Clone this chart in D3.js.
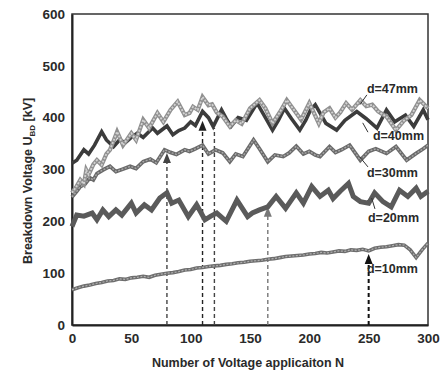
<!DOCTYPE html>
<html>
<head>
<meta charset="utf-8">
<script src="https://cdn.jsdelivr.net/npm/d3@7"></script>
<style>
  body { margin: 0; background: #fff; }
  svg text { font-family: "Liberation Sans", Arial, sans-serif; fill: #2a2a2a; font-weight: bold; }
</style>
</head>
<body>
<div id="chart"></div>
<script>
// ---- data ----
const d47N = [0, 4, 7, 10, 12, 14, 18, 21, 25, 29, 32, 35, 38, 43, 47, 50, 54, 60, 65, 72, 77, 83, 89, 95, 99, 102, 106, 110, 115, 118, 122, 127, 133, 138, 143, 150, 158, 163, 169, 175, 181, 187, 193, 200, 208, 212, 217, 222, 226, 231, 236, 243, 248, 253, 258, 265, 273, 280, 286, 293, 300];
const d47V = [255, 268, 280, 272, 299, 290, 310, 318, 309, 330, 338, 355, 373, 347, 360, 370, 357, 396, 380, 409, 392, 415, 431, 405, 409, 421, 415, 440, 424, 426, 410, 402, 383, 395, 388, 418, 434, 418, 389, 410, 434, 415, 396, 428, 389, 410, 418, 400, 410, 428, 415, 434, 422, 425, 412, 402, 376, 395, 405, 434, 418];

const d40N = [0, 4, 10, 14, 19, 25, 29, 35, 40, 45, 50, 55, 60, 68, 72, 80, 85, 90, 95, 100, 104, 110, 115, 119, 126, 130, 134, 140, 147, 156, 163, 169, 174, 179, 185, 192, 197, 201, 205, 214, 223, 230, 240, 248, 257, 265, 272, 281, 288, 296, 300];
const d40V = [312, 318, 338, 330, 347, 373, 357, 344, 357, 352, 362, 370, 362, 380, 370, 384, 367, 375, 380, 392, 385, 412, 400, 383, 415, 398, 383, 400, 395, 428, 400, 376, 395, 418, 398, 376, 395, 415, 425, 389, 376, 395, 412, 398, 380, 415, 392, 405, 383, 415, 396];

const d30N = [0, 4, 7, 11, 15, 18, 21, 26, 32, 37, 42, 49, 54, 60, 66, 71, 78, 83, 88, 95, 99, 104, 110, 115, 121, 127, 133, 138, 144, 153, 158, 165, 171, 178, 183, 189, 195, 200, 205, 209, 217, 222, 227, 234, 243, 250, 256, 265, 273, 282, 290, 296, 300];
const d30V = [247, 258, 267, 272, 284, 280, 292, 299, 306, 296, 300, 306, 302, 315, 320, 313, 338, 333, 329, 338, 335, 340, 347, 330, 338, 332, 315, 330, 325, 357, 340, 315, 328, 325, 332, 345, 330, 335, 328, 325, 344, 333, 338, 347, 318, 335, 340, 331, 344, 318, 331, 340, 347];

const d20N = [0, 4, 10, 17, 21, 26, 31, 37, 42, 50, 54, 61, 67, 74, 80, 84, 90, 98, 105, 112, 117, 122, 130, 139, 148, 152, 158, 165, 172, 180, 189, 195, 202, 209, 216, 220, 226, 233, 237, 243, 250, 255, 262, 269, 276, 283, 290, 294, 300];
const d20V = [190, 212, 210, 216, 203, 222, 209, 222, 212, 235, 216, 232, 222, 245, 255, 235, 241, 209, 232, 203, 210, 216, 200, 241, 209, 216, 222, 228, 248, 225, 255, 235, 267, 248, 260, 244, 258, 273, 248, 238, 235, 255, 238, 228, 260, 248, 264, 248, 258];

const d10N = [0, 5, 10, 15, 20, 25, 30, 35, 40, 45, 50, 55, 60, 65, 70, 75, 80, 85, 90, 95, 100, 105, 110, 115, 120, 125, 130, 135, 140, 145, 150, 155, 160, 165, 170, 175, 180, 185, 190, 195, 200, 205, 210, 215, 220, 225, 230, 235, 240, 245, 250, 255, 260, 265, 270, 275, 280, 285, 290, 295, 300];
const d10V = [68, 72, 75, 77, 80, 82, 85, 86, 89, 88, 91, 92, 94, 92, 96, 98, 100, 101, 103, 106, 107, 110, 111, 113, 114, 115, 117, 118, 120, 121, 123, 124, 125, 127, 128, 130, 132, 133, 134, 135, 137, 138, 140, 139, 141, 143, 142, 145, 144, 146, 143, 148, 150, 151, 153, 155, 154, 145, 130, 145, 158];

const xTicks = [0, 50, 100, 150, 200, 250, 300];
const yTicks = [0, 100, 200, 300, 400, 500, 600];

// dashed markers: position N, top value, arrowhead?, colour
const arrowN = [80, 110, 120, 165, 250];
const arrowTop = [332, 394, 380, 228, 137];
const arrowHead = [true, true, false, true, true];
const arrowColor = ["#444", "#222", "#444", "#777", "#111"];

// labels: text, anchor N/V, leader from/to
const labelText = ["d=47mm", "d=40mm", "d=30mm", "d=20mm", "d=10mm"];
const labelN = [248.5, 253.6, 248.5, 249.4, 248.5];
const labelV = [448, 357, 286, 199, 100];
const leaders = [
  [[248.5, 444], [242.6, 425]],
  [[249.4, 372], [245, 390]],
  [[249.4, 305], [242.6, 324]],
  [[255.3, 224], [252.5, 245]],
  null
];

// ---- layout ----
const width = 443, height = 374;
const margin = { left: 72, right: 15, top: 14, bottom: 49 };

const svg = d3.select("#chart").append("svg")
  .attr("width", width)
  .attr("height", height);

const x = d3.scaleLinear().domain([0, 300]).range([margin.left, width - margin.right]);
const y = d3.scaleLinear().domain([0, 600]).range([height - margin.bottom, margin.top]);

// frame
svg.append("rect")
  .attr("x", x(0)).attr("y", y(600))
  .attr("width", x(300) - x(0)).attr("height", y(0) - y(600))
  .attr("fill", "none").attr("stroke", "#333").attr("stroke-width", 1.5);

// axes (labels only, no tick marks visible)
const xAxis = svg.append("g")
  .attr("transform", `translate(0,${y(0)})`)
  .call(d3.axisBottom(x).tickValues(xTicks).tickSize(0).tickPadding(8));
const yAxis = svg.append("g")
  .attr("transform", `translate(${x(0)},0)`)
  .call(d3.axisLeft(y).tickValues(yTicks).tickSize(0).tickPadding(7));
[xAxis, yAxis].forEach(g => {
  g.select(".domain").attr("stroke", "#222").attr("stroke-width", 2);
  g.selectAll("text").attr("font-size", 13.5).attr("fill", "#2a2a2a")
    .attr("font-family", "Liberation Sans, Arial, sans-serif")
    .attr("font-weight", "bold");
});

// dashed guide lines
arrowN.forEach((n, i) => {
  const top = y(arrowTop[i]) + (arrowHead[i] ? 9 : 0);
  svg.append("line")
    .attr("x1", x(n)).attr("x2", x(n))
    .attr("y1", y(0)).attr("y2", top)
    .attr("stroke", arrowColor[i])
    .attr("stroke-width", i === 4 ? 2 : 1.4)
    .attr("stroke-dasharray", "4,3");
  if (arrowHead[i]) {
    const tx = x(n), ty = y(arrowTop[i]);
    svg.append("path")
      .attr("d", `M${tx},${ty} L${tx - 4},${ty + 10} L${tx + 4},${ty + 10} Z`)
      .attr("fill", arrowColor[i]);
  }
});

// series
const line = d3.line().x(d => x(d[0])).y(d => y(d[1]));
const zip = (a, b) => a.map((v, i) => [v, b[i]]);

const series = [
  { pts: zip(d10N, d10V), outer: "#6e6e6e", outerW: 3.6, inner: "#b0b0b0", innerW: 1.2 },
  { pts: zip(d20N, d20V), outer: "#5a5a5a", outerW: 5, inner: null },
  { pts: zip(d30N, d30V), outer: "#6a6a6a", outerW: 3.8, inner: "#a8a8a8", innerW: 1.4 },
  { pts: zip(d40N, d40V), outer: "#3c3c3c", outerW: 3.6, inner: null },
  { pts: zip(d47N, d47V), outer: "#909090", outerW: 4.2, inner: "#d2d2d2", innerW: 1.8 }
];

series.forEach(s => {
  svg.append("path").datum(s.pts)
    .attr("d", line).attr("fill", "none")
    .attr("stroke", s.outer).attr("stroke-width", s.outerW)
    .attr("stroke-linejoin", "miter");
  if (s.inner) {
    svg.append("path").datum(s.pts)
      .attr("d", line).attr("fill", "none")
      .attr("stroke", s.inner).attr("stroke-width", s.innerW)
      .attr("stroke-dasharray", "2,1.5");
  }
});

// labels + leaders
labelText.forEach((t, i) => {
  if (leaders[i]) {
    svg.append("line")
      .attr("x1", x(leaders[i][0][0])).attr("y1", y(leaders[i][0][1]))
      .attr("x2", x(leaders[i][1][0])).attr("y2", y(leaders[i][1][1]))
      .attr("stroke", "#333").attr("stroke-width", 1);
  }
  svg.append("text")
    .attr("x", x(labelN[i])).attr("y", y(labelV[i]))
    .attr("font-size", 12.5)
    .text(t);
});

// axis titles
svg.append("text")
  .attr("x", (x(0) + x(300)) / 2 - 2).attr("y", 367)
  .attr("text-anchor", "middle").attr("font-size", 12.5)
  .text("Number of Voltage applicaiton N");

const yt = svg.append("text")
  .attr("transform", `translate(32,${y(278)}) rotate(-90)`)
  .attr("text-anchor", "middle").attr("font-size", 12.5);
yt.append("tspan").text("Breakdown Voltage U");
yt.append("tspan").attr("font-size", 8).attr("dy", 3).text("BD");
yt.append("tspan").attr("dy", -3).text(" [kV]");
</script>
</body>
</html>
